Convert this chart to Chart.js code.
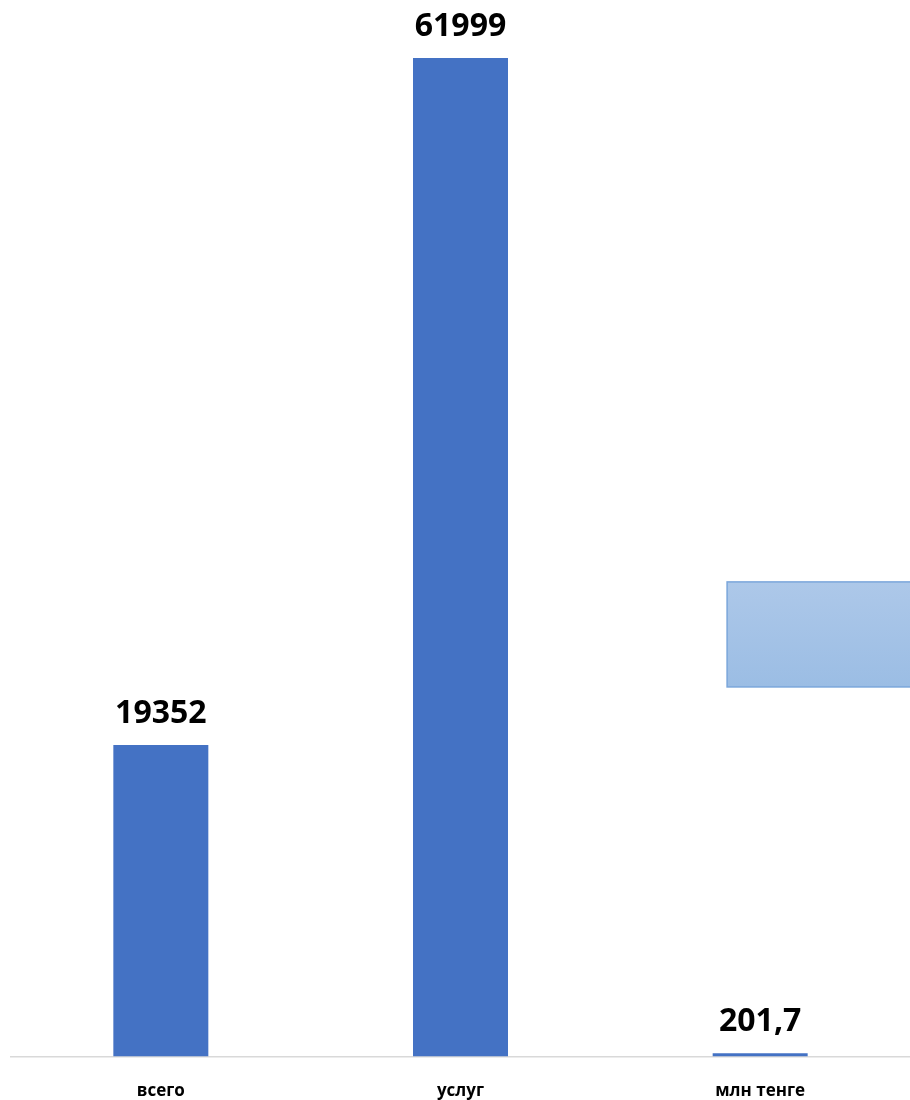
<!DOCTYPE html>
<html>
<head>
<meta charset="utf-8">
<script src="https://cdn.jsdelivr.net/npm/chart.js@4"></script>
<style>
  html, body { margin: 0; padding: 0; background: #fff; }
  #wrap { width: 910px; height: 1100px; }
</style>
</head>
<body>
<div id="wrap"><canvas id="bars"></canvas></div>
<script>
const categories = ['всего', 'услуг', 'млн тенге'];
const values = [19352, 61999, 201.7];

// value labels above the bars, Excel style
const valueLabels = {
  id: 'valueLabels',
  afterDatasetsDraw(chart) {
    const ctx = chart.ctx;
    const meta = chart.getDatasetMeta(0);
    ctx.save();
    ctx.font = 'bold 32px "Open Sans"';
    ctx.fillStyle = '#000';
    ctx.textAlign = 'center';
    ctx.textBaseline = 'alphabetic';
    meta.data.forEach((bar, i) => {
      const txt = String(values[i]).replace('.', ',');
      ctx.fillText(txt, bar.x, bar.y - 22);
    });
    ctx.restore();
  }
};

// the pale blue box pasted on the slide
const blueBox = {
  id: 'blueBox',
  afterDraw(chart) {
    const ctx = chart.ctx;
    const x = chart.width * 0.799;
    const y = chart.height * 0.529;
    const w = chart.width - x + 2;
    const h = chart.height * 0.0955;
    const g = ctx.createLinearGradient(0, y, 0, y + h);
    g.addColorStop(0, '#adc8e9');
    g.addColorStop(1, '#9bbde4');
    ctx.save();
    ctx.fillStyle = g;
    ctx.fillRect(x, y, w, h);
    ctx.strokeStyle = '#7ba7db';
    ctx.lineWidth = 1.5;
    ctx.strokeRect(x, y, w, h);
    ctx.restore();
  }
};

new Chart(document.getElementById('bars'), {
  type: 'bar',
  data: {
    labels: categories,
    datasets: [{
      data: values,
      backgroundColor: '#4472C4',
      barPercentage: 0.317,
      categoryPercentage: 1
    }]
  },
  options: {
    responsive: true,
    maintainAspectRatio: false,
    animation: false,
    layout: { padding: { left: 11, right: 0, top: 0, bottom: -17 } },
    plugins: {
      legend: { display: false },
      tooltip: { enabled: false }
    },
    scales: {
      x: {
        grid: { display: false },
        border: { display: true, color: '#d9d9d9', width: 1.5 },
        ticks: {
          color: '#000',
          font: { family: '"Open Sans"', size: 17, weight: 'bold' },
          padding: 16
        }
      },
      y: {
        display: false,
        min: 0,
        max: 65600
      }
    }
  },
  plugins: [valueLabels, blueBox]
});
</script>
</body>
</html>
